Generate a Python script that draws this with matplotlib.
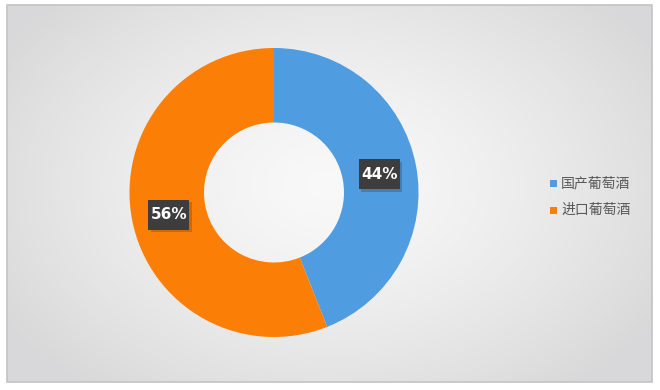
import numpy as np
import matplotlib
matplotlib.use("Agg")
import matplotlib.pyplot as plt
from matplotlib.patches import Rectangle

plt.rcParams['font.family'] = ['Noto Sans CJK SC', 'DejaVu Sans']

categories = ['国产葡萄酒', '进口葡萄酒']
shares = [44, 56]
colors = ['#4f9ce0', '#fb7f06']

W, H = 660, 390
fig = plt.figure(figsize=(W / 100, H / 100), dpi=100)
ax = fig.add_axes([0, 0, 1, 1])

# framed panel with a soft radial gradient
x0, x1, y0, y1 = 7, 652, 8, 385
gx, gy = np.meshgrid(np.linspace(x0, x1, 300), np.linspace(y0, y1, 200))
d = np.hypot((gx - 330) / 380, (gy - 205) / 260)
d = np.clip(d, 0, 1)
lo, hi = np.array([0.975, 0.975, 0.975]), np.array([0.85, 0.85, 0.855])
img = lo + (hi - lo) * d[..., None] ** 1.4
ax.imshow(img, extent=(x0, x1, y0, y1), origin='lower', zorder=0, interpolation='bilinear')
ax.add_patch(Rectangle((x0, y0), x1 - x0, y1 - y0, fill=False, ec='#c3c3c3', lw=1.2, zorder=1))

# donut
cx, cy, R, r_in = 274, 197.5, 144.5, 70
wedges, _ = ax.pie(shares, colors=colors, startangle=90, counterclock=False,
                   center=(cx, cy), radius=R, frame=True,
                   wedgeprops=dict(width=R - r_in, edgecolor='none'))
ax.set_xlim(0, W)
ax.set_ylim(0, H)
ax.set_aspect('equal')
ax.axis('off')
for w in wedges:
    w.set_zorder(2)

# value labels in dark boxes at mid-ring
r_mid = (R + r_in) / 2
start = 90.0
for val in shares:
    mid = np.deg2rad(start - val * 3.6 / 2)
    start -= val * 3.6
    tx, ty = cx + r_mid * np.cos(mid), cy + r_mid * np.sin(mid) - 2
    bw, bh = 41, 30
    ax.add_patch(Rectangle((tx - bw / 2 + 2.5, ty - bh / 2 - 2.5), bw, bh,
                           fc='black', alpha=0.18, ec='none', zorder=3))
    ax.add_patch(Rectangle((tx - bw / 2, ty - bh / 2), bw, bh,
                           fc='#3d3d3d', ec='none', zorder=4))
    ax.text(tx, ty, f'{val}%', color='white', fontsize=11, fontweight='bold',
            family='DejaVu Sans', ha='center', va='center', zorder=5)

# legend
for i, (lab, col) in enumerate(zip(categories, colors)):
    ly = H - (183 + i * 27)
    ax.add_patch(Rectangle((550, ly - 3.5), 7, 7, fc=col, ec='none', zorder=3))
    ax.text(561, ly, lab, fontsize=10, color='#595959', ha='left', va='center', zorder=3)

fig.savefig('out.png', dpi=100)
